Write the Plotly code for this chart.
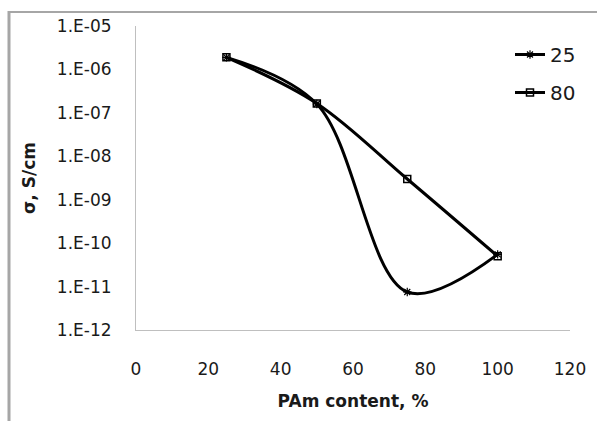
import plotly.graph_objects as go

pam = [25, 50, 75, 100]
sigma_25 = [1.9e-6, 1.6e-7, 7.5e-12, 5.5e-11]
sigma_80 = [1.9e-6, 1.65e-7, 3.0e-9, 5.0e-11]
series_names = ["25", "80"]
y_tickvals = [1e-12, 1e-11, 1e-10, 1e-9, 1e-8, 1e-7, 1e-6, 1e-5]
y_ticktext = ["1.E-12", "1.E-11", "1.E-10", "1.E-09", "1.E-08", "1.E-07", "1.E-06", "1.E-05"]
x_tickvals = [0, 20, 40, 60, 80, 100, 120]

W, H = 597, 421
L, R, T, B = 136, 27, 26, 91
pw, ph = W - L - R, H - T - B

def px(x):
    return (x - L) / pw

def py(y):
    return (H - B - y) / ph

FONT = "DejaVu Sans"
TXT = "#1a1a1a"

fig = go.Figure()
fig.add_trace(go.Scatter(
    x=pam, y=sigma_25, name=series_names[0], mode="lines+markers",
    line=dict(color="black", width=3, shape="spline", smoothing=1.0),
    marker=dict(symbol="asterisk-open", size=7, color="black", line=dict(color="black", width=1.2)),
    legendgroup="a",
))
fig.add_trace(go.Scatter(
    x=pam, y=sigma_80, name=series_names[1], mode="lines+markers",
    line=dict(color="black", width=3, shape="spline", smoothing=1.0),
    marker=dict(symbol="square-open", size=7, color="black", line=dict(color="black", width=1.5)),
    legendgroup="b",
))

fig.update_layout(
    width=W, height=H,
    margin=dict(l=L, r=R, t=T, b=B),
    paper_bgcolor="white", plot_bgcolor="white",
    font=dict(family=FONT, size=17, color=TXT),
    showlegend=True,
    legend=dict(
        x=px(510), y=py(35), xanchor="left", yanchor="top",
        font=dict(family=FONT, size=20, color=TXT),
        bgcolor="rgba(0,0,0,0)", tracegroupgap=9,
    ),
    xaxis=dict(
        range=[0, 120], tickvals=x_tickvals, showgrid=False, zeroline=False,
        showline=True, linecolor="#bfbfbf", linewidth=1,
        ticks="outside", ticklen=24, tickcolor="rgba(0,0,0,0)",
        tickfont=dict(family=FONT, size=17, color=TXT),
        title=dict(text="<b>PAm content, %</b>", font=dict(family=FONT, size=17, color=TXT), standoff=16),
    ),
    yaxis=dict(
        type="log", range=[-12, -5], tickvals=y_tickvals, ticktext=y_ticktext,
        showgrid=False, zeroline=False,
        showline=True, linecolor="#bfbfbf", linewidth=1,
        ticks="outside", ticklen=20, tickcolor="rgba(0,0,0,0)",
        tickfont=dict(family=FONT, size=17, color=TXT),
        title=dict(text="<b>σ, S/cm</b>", font=dict(family=FONT, size=17, color=TXT), standoff=16),
    ),
    shapes=[
        dict(type="line", xref="paper", yref="paper", x0=px(9), x1=px(9), y0=py(11), y1=py(421),
             line=dict(color="#a6a6a6", width=3)),
        dict(type="line", xref="paper", yref="paper", x0=px(8), x1=px(597), y0=py(12), y1=py(12),
             line=dict(color="#a6a6a6", width=2)),
    ],
)

fig.write_html("out.html")
